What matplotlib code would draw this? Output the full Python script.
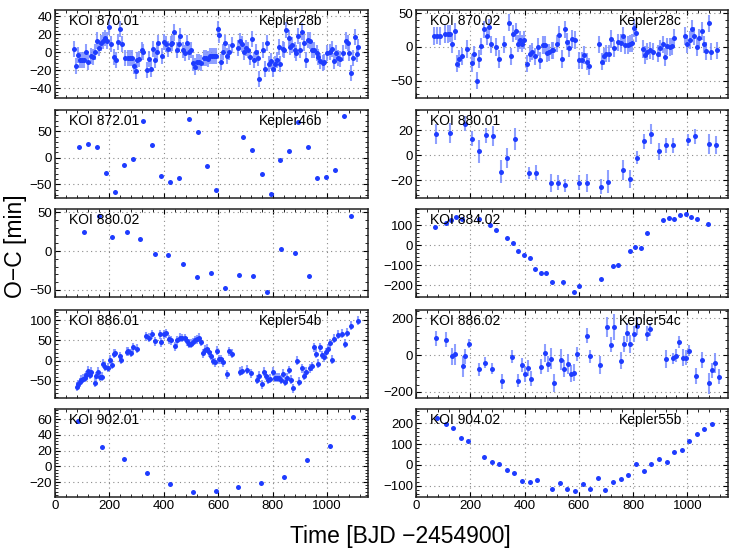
import matplotlib
matplotlib.use("Agg")
import matplotlib.pyplot as plt
from matplotlib.ticker import MultipleLocator, AutoMinorLocator

plt.rcParams['font.family'] = ['Liberation Sans', 'DejaVu Sans']

# ---------------- data ----------------
t_870_01 = [70, 77, 85, 92, 101, 108, 115, 123, 131, 139, 146, 153, 161, 168, 175, 183, 190, 200, 207, 215,
            223, 231, 238, 245, 258, 267, 275, 282, 291, 296, 302, 310, 318, 325, 337, 345, 352, 360, 366, 374,
            380, 393, 401, 409, 417, 425, 431, 437, 448, 456, 461, 470, 477, 485, 491, 499, 507, 514, 521, 529,
            537, 546, 553, 561, 568, 577, 584, 593, 598, 604, 611, 617, 626, 632, 639, 649, 671, 678, 686, 694,
            702, 709, 718, 723, 730, 737, 746, 751, 763, 773, 780, 788, 795, 802, 810, 817, 822, 828, 836, 843,
            850, 858, 865, 872, 880, 887, 893, 901, 908, 914, 921, 929, 936, 945, 953, 961, 968, 975, 983, 990,
            999, 1010, 1017, 1025, 1032, 1039, 1047, 1058, 1069, 1077, 1082, 1087, 1094, 1101, 1108, 1114]
oc_870_01 = [4, -15, -3, -9, -9, -9, 0, -11, -4, -5, 0, 13, 5, 10, 13, 16, 13, 28, 9, -5,
             -9, 11, 26, 9, -6, -6, -6, -6, -15, -21, -9, -8, 2, 0, -20, -8, -19, 4, -9, 0,
             10, -4, 11, 9, 4, 9, 10, 22, 2, 9, 18, 2, -1, 10, 0, 2, -12, -16, -11, -11,
             -12, -6, -6, -8, -4, -4, -4, -4, 26, 19, -11, 0, 10, -4, 0, 8, 5, 12, 9, 0,
             5, 2, -5, 15, -9, 0, -6, -30, 2, -19, 10, -13, -10, -19, -13, -9, 6, -13, 4, 2,
             25, 16, 6, 8, 2, -1, 18, 2, 23, 10, -9, 14, 13, 2, 2, -1, -5, -10, -12, -11,
             -1, 0, 4, -10, -1, -6, -8, -1, 13, 10, -1, -23, -6, 17, -2, 6]
err_870_01 = 9

t_870_02 = [68, 78, 87, 107, 117, 126, 134, 143, 151, 160, 170, 187, 206, 214, 223, 233, 241, 250, 260, 268,
            278, 296, 305, 323, 341, 350, 358, 367, 376, 384, 390, 398, 408, 419, 427, 437, 450, 458, 467, 475,
            483, 491, 500, 506, 520, 528, 539, 548, 557, 565, 575, 586, 601, 611, 621, 629, 638, 675, 685, 692,
            701, 711, 718, 729, 745, 754, 764, 772, 781, 789, 796, 802, 810, 836, 845, 853, 863, 872, 892, 900,
            909, 917, 926, 935, 943, 952, 991, 1000, 1009, 1017, 1026, 1036, 1044, 1053, 1063, 1070, 1079, 1089, 1108]
oc_870_02 = [16, 17, 16, 19, 19, 20, 4, 23, -25, -18, -14, -3, -24, -11, -50, -18, 1, 26, 16, 29,
             4, 0, -18, 4, 36, -14, 20, 23, 5, 10, 5, 10, -25, -10, -7, -14, 0, -20, 3, 3,
             -9, -8, -5, -5, 5, 18, -18, 26, 8, -2, 12, 10, -20, -20, -12, -22, -29, 4, -22, -14,
             -10, -10, 12, -2, 7, 6, 17, 3, 3, 5, 6, 28, 21, -3, -12, -7, -5, -7, -10, -2,
             4, -15, 1, 0, 1, 14, 16, 4, 10, 27, 16, 0, 14, 24, 4, -6, 35, -7, -5]
err_870_02 = 13

t_872_01 = [88, 121, 155, 188, 221, 254, 288, 323, 356, 390, 423, 456, 491, 524, 557, 591,
            692, 725, 760, 794, 826, 859, 893, 928, 961, 994, 1027, 1061]
oc_872_01 = [20, 26, 20, -28, -64, -14, -2, 69, 24, -34, -46, -38, 73, 48, -15, -61,
             39, 15, -30, -69, -5, 12, 68, 20, -39, -36, -24, 79]

t_880_01 = [73, 126, 179, 206, 232, 258, 284, 312, 337, 365, 417, 444, 496, 523, 550, 602,
            629, 682, 709, 762, 789, 815, 842, 868, 895, 921, 948, 1001, 1028, 1080, 1107]
oc_880_01 = [17, 18, 25, 13, 3, 16, 15, -13, -2, 13, -14, -14, -22, -22, -24, -22,
             -22, -25, -21, -12, -19, -2, 11, 17, 3, 8, 8, 12, 15, 9, 8]
err_880_01 = [8, 8, 6, 6, 9, 6, 8, 9, 8, 9, 5, 6, 7, 6, 5, 6,
              7, 6, 9, 8, 7, 5, 6, 8, 7, 6, 6, 5, 6, 8, 7]

t_880_02 = [108, 160, 211, 263, 314, 366, 417, 469, 520, 572, 623, 675, 726, 778, 829, 881, 932, 1086]
oc_880_02 = [24, 45, 18, 24, 15, -4, -5, -17, -33, -28, -47, -31, -32, -52, 3, -2, -32, 45]

t_884_02 = [69, 110, 129, 149, 171, 234, 273, 294, 335, 356, 377, 398, 419, 438, 459, 480, 500, 542,
            583, 602, 683, 727, 746, 788, 808, 829, 850, 911, 932, 952, 973, 994, 1014, 1034, 1075]
oc_884_02 = [88, 108, 125, 142, 132, 130, 102, 75, 37, 12, -32, -50, -67, -120, -138, -138, -183, -183,
             -235, -203, -172, -105, -100, -32, -10, -13, 60, 123, 133, 132, 152, 155, 142, 128, 107]

t_886_01 = [79, 85, 91, 97, 103, 109, 115, 121, 128, 134, 146, 152, 158, 164, 171, 177, 183, 194, 201, 209,
            216, 222, 237, 244, 263, 270, 280, 288, 302, 335, 345, 357, 368, 384, 391, 399, 407, 418, 426, 440,
            450, 459, 467, 476, 485, 492, 499, 507, 514, 521, 529, 536, 544, 551, 558, 566, 573, 580, 588, 595,
            602, 610, 617, 633, 640, 649, 679, 688, 705, 721, 744, 751, 761, 769, 777, 784, 791, 801, 809, 816,
            823, 831, 838, 845, 853, 860, 867, 875, 890, 897, 906, 914, 921, 936, 943, 951, 958, 966, 973, 980,
            988, 995, 1002, 1010, 1017, 1025, 1039, 1054, 1066, 1074, 1088, 1114]
oc_886_01 = [-64, -58, -53, -47, -44, -42, -36, -25, -35, -27, -54, -38, -27, -40, -39, -8, -15, -17, 2, -10,
             17, 19, 11, 2, 22, 23, 19, 33, 29, 60, 57, 65, 48, 65, 45, 65, 68, 53, 50, 35,
             50, 57, 56, 56, 48, 42, 42, 46, 51, 53, 57, 46, 18, 27, 29, 21, 12, 0, -4, 25,
             4, 4, -4, -33, 23, 17, -27, -25, -22, -31, -47, -37, -58, -27, -37, -47, -45, -27, -42, -42,
             -42, -47, -32, -52, -42, -23, -47, -68, 0, -52, -19, -37, -27, -19, -14, 33, 17, -8, 33, 14,
             8, 21, 29, 43, 2, 54, 64, 67, 42, 69, 86, 99]
err_886_01 = 11

t_886_02 = [74, 112, 134, 145, 172, 182, 195, 231, 256, 280, 316, 353, 377, 389, 401, 414, 425, 462, 474, 486,
            498, 510, 534, 547, 559, 570, 583, 595, 632, 643, 680, 704, 717, 729, 754, 766, 777, 790, 802, 814,
            850, 862, 923, 946, 958, 970, 983, 995, 1008, 1032, 1055, 1080, 1091, 1103, 1116]
oc_886_02 = [92, 84, -7, 4, -61, -7, 62, -77, -40, -75, -143, -9, -138, -53, -105, -70, -128, -62, 11, -48,
             -18, -152, -24, -73, -48, -101, -95, 7, 106, -6, -53, 154, 57, 154, -29, 61, 123, 61, 116, 160,
             117, 141, -22, -17, -4, 72, -13, -13, 24, -112, -26, -154, -83, -42, -117]
err_886_02 = [40, 40, 45, 55, 55, 40, 25, 35, 30, 30, 40, 35, 35, 40, 40, 45, 40, 40, 50, 45,
              55, 50, 55, 45, 55, 45, 45, 40, 40, 35, 50, 55, 40, 70, 45, 45, 50, 50, 45, 50,
              40, 35, 50, 30, 35, 35, 45, 40, 30, 45, 45, 55, 40, 55, 40]

t_902_01 = [86, 172, 255, 339, 423, 507, 590, 674, 758, 842, 926, 1010, 1094]
oc_902_01 = [58, 25, 9, -9, -22, -33, -31, -26, -21, -14, 8, 26, 63]

t_904_02 = [78, 111, 138, 166, 193, 250, 279, 307, 334, 362, 390, 419, 447, 502, 531, 558, 586, 615,
            643, 671, 698, 727, 755, 783, 810, 839, 867, 895, 924, 951, 979, 1007, 1036, 1063, 1091]
oc_904_02 = [226, 195, 178, 130, 113, 36, 14, 3, -26, -41, -79, -81, -71, -116, -87, -116, -127, -92,
             -116, -65, -119, -82, -68, -47, 4, -28, 6, 28, 16, 60, 73, 117, 149, 173, 195]

koi_names = ["KOI 870.01", "KOI 870.02", "KOI 872.01", "KOI 880.01", "KOI 880.02",
             "KOI 884.02", "KOI 886.01", "KOI 886.02", "KOI 902.01", "KOI 904.02"]
kepler_names = ["Kepler28b", "Kepler28c", "Kepler46b", "", "",
                "", "Kepler54b", "Kepler54c", "", "Kepler55b"]
x_ticks = [0, 200, 400, 600, 800, 1000]

# ---------------- panels ----------------
panels = [
    (t_870_01, oc_870_01, err_870_01, (-51, 47), 20),
    (t_870_02, oc_870_02, err_870_02, (-76, 55), 50),
    (t_872_01, oc_872_01, None, (-76, 90), 50),
    (t_880_01, oc_880_01, err_880_01, (-34, 36), 20),
    (t_880_02, oc_880_02, None, (-59, 54), 50),
    (t_884_02, oc_884_02, None, (-260, 180), 100),
    (t_886_01, oc_886_01, err_886_01, (-92, 125), 50),
    (t_886_02, oc_886_02, err_886_02, (-233, 246), 200),
    (t_902_01, oc_902_01, None, (-39, 73), 20),
    (t_904_02, oc_904_02, None, (-154, 269), 100),
]

W, H = 738, 553
fig = plt.figure(figsize=(W / 100, H / 100), dpi=100)

col_left = [55, 416]
col_width = [313, 312]
row_top = [10, 110, 209, 310, 409]
ph = 88

dot_color = '#1e3cff'
err_color = '#7b8fff'

for i, (t, oc, err, ylim, ystep) in enumerate(panels):
    r, c = divmod(i, 2)
    ax = fig.add_axes([col_left[c] / W, 1 - (row_top[r] + ph) / H, col_width[c] / W, ph / H])
    if err is not None:
        ax.errorbar(t, oc, yerr=err, fmt='none', ecolor=err_color, elinewidth=1.5,
                    capsize=0, alpha=0.85, zorder=2)
    ax.plot(t, oc, 'o', color=dot_color, markersize=3.6, markeredgewidth=0, zorder=3)
    ax.set_xlim(0, 1150)
    ax.set_ylim(*ylim)
    ax.xaxis.set_major_locator(MultipleLocator(200))
    ax.xaxis.set_minor_locator(MultipleLocator(40))
    ax.yaxis.set_major_locator(MultipleLocator(ystep))
    ax.yaxis.set_minor_locator(AutoMinorLocator(5))
    ax.set_xticks(x_ticks)
    ax.tick_params(which='both', direction='in', top=True, right=True, labelsize=9.5, pad=2)
    ax.tick_params(which='major', length=3.5, width=0.8)
    ax.tick_params(which='minor', length=2, width=0.6)
    ax.grid(True, which='major', linestyle=(0, (1, 3)), color='#8a8a8a', linewidth=0.8)
    ax.set_axisbelow(True)
    for s in ax.spines.values():
        s.set_linewidth(1.1)
        s.set_color('#222222')
    if r < 4:
        ax.tick_params(labelbottom=False)
    ax.text(0.046, 0.875, koi_names[i], transform=ax.transAxes, fontsize=10,
            va='center', ha='left', zorder=4)
    if kepler_names[i]:
        ax.text(0.65, 0.875, kepler_names[i], transform=ax.transAxes, fontsize=10,
                va='center', ha='left', zorder=4)

fig.text(400 / W, 1 - 536 / H, 'Time [BJD \u22122454900]', ha='center', va='center', fontsize=16.5)
fig.text(16 / W, 1 - 246 / H, 'O\u2212C [min]', ha='center', va='center', rotation=90, fontsize=16.5)

fig.savefig('out.png', dpi=100)
